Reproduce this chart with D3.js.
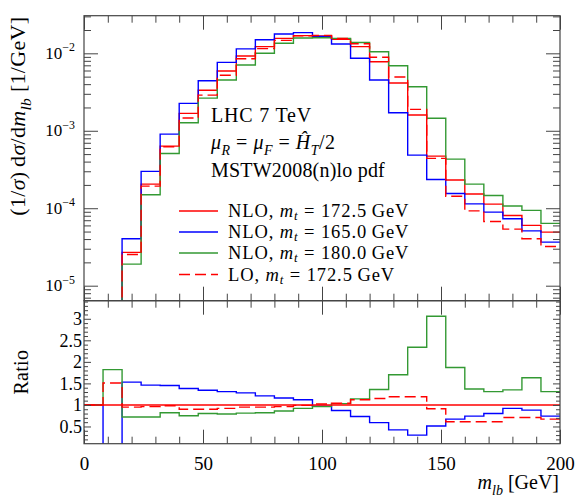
<!DOCTYPE html>
<html><head><meta charset="utf-8">
<script src="https://cdn.jsdelivr.net/npm/d3@7"></script>
<style>
body{margin:0;background:#fff;}
svg text{font-family:"Liberation Serif","Times New Roman",serif;fill:#000;white-space:pre;}
</style></head><body>
<svg id="chart" width="581" height="500"></svg>
<script>
// ---------- data ----------
const binLow = [0,8,16,24,32,40,48,56,64,72,80,88,96,104,112,120,128,136,144,152,160,168,176,184,192];
const binWidth = 8;
// (1/sigma) dsigma/dm_lb [1/GeV]
const nlo1725 = [0,3.0e-6,2.69e-5,2.05e-4,6.34e-4,1.68e-3,3.33e-3,5.91e-3,9.23e-3,1.22e-2,1.56e-2,1.69e-2,1.67e-2,1.52e-2,1.22e-2,7.79e-3,4.13e-3,1.60e-3,4.71e-4,2.31e-4,1.53e-4,1.13e-4,8.07e-5,6.0e-5,4.91e-5];
const nlo1650 = [0,0,4.03e-5,2.99e-4,9.06e-4,2.26e-3,4.43e-3,7.65e-3,1.14e-2,1.50e-2,1.78e-2,1.85e-2,1.65e-2,1.32e-2,8.62e-3,4.52e-3,1.71e-3,4.85e-4,2.35e-4,1.55e-4,1.14e-4,8.9e-5,7.3e-5,5.1e-5,3.65e-5];
const nlo1800 = [0,5.4e-6,1.90e-5,1.49e-4,5.1e-4,1.27e-3,2.64e-3,4.52e-3,7.06e-3,1.0e-2,1.35e-2,1.58e-2,1.59e-2,1.56e-2,1.38e-2,1.05e-2,6.92e-3,3.70e-3,1.45e-3,4.31e-4,2.05e-4,1.46e-4,1.07e-4,9.37e-5,6.37e-5];
const lo1725  = [0,4.5e-6,2.53e-5,1.93e-4,6.21e-4,1.46e-3,2.89e-3,5.2e-3,8.5e-3,1.15e-2,1.47e-2,1.68e-2,1.70e-2,1.56e-2,1.33e-2,8.88e-3,4.94e-3,1.89e-3,4.40e-4,1.43e-4,9.25e-5,6.75e-5,5.37e-5,4.03e-5,3.21e-5];
// ratios to NLO, m_t = 172.5 GeV
const ratio1725 = [1,1,1,1,1,1,1,1,1,1,1,1,1,1,1,1,1,1,1,1,1,1,1,1,1];
const ratio1650 = [1,0,1.53,1.46,1.45,1.38,1.34,1.31,1.28,1.21,1.16,1.12,0.97,0.87,0.73,0.59,0.42,0.30,0.51,0.67,0.74,0.80,0.92,0.88,0.74];
const ratio1800 = [1,1.82,0.72,0.72,0.82,0.75,0.80,0.79,0.81,0.82,0.86,0.92,0.96,1.03,1.14,1.36,1.70,2.34,3.06,1.87,1.37,1.31,1.35,1.63,1.31];
const ratioLO   = [1,1.51,0.95,0.96,0.98,0.90,0.90,0.92,0.95,0.95,0.96,0.99,1.02,1.04,1.12,1.15,1.19,1.19,0.91,0.61,0.61,0.61,0.71,0.71,0.67];
const legendOrders = ["NLO","NLO","NLO","LO"];
const legendMasses = ["172.5","165.0","180.0","172.5"];
const xMajorTicks = [0,50,100,150,200];
const ratioTickLabels = [0.5,1,1.5,2,2.5,3];
const logTickLabels = [1e-5,1e-4,1e-3,1e-2];

// ---------- layout ----------
const L=84, R=560, T=15.7, M=300.7, B=443.7;
const colors = ["#ff0000","#0000ff","#339933","#ff0000"];
const dashes = [null,null,null,"11,5"];
const axisColor = "#444";
const LW = 1.4;

const svg = d3.select("#chart");
const x = d3.scaleLinear().domain([0,200]).range([L,R]);
const yTop = d3.scaleLog().domain([6.4e-6,3.06e-2]).range([M,T]);
const yR = d3.scaleLinear().domain([0.1,3.42]).range([B,M]);

const defs = svg.append("defs");
defs.append("clipPath").attr("id","cTop").append("rect").attr("x",L).attr("y",T).attr("width",R-L).attr("height",M-T);
defs.append("clipPath").attr("id","cR").append("rect").attr("x",L).attr("y",M).attr("width",R-L).attr("height",B-M);

function stepPath(vals, ys, floor){
  const pts = vals.map((v,i)=>[binLow[i], v]);
  pts.push([binLow[vals.length-1]+binWidth, vals[vals.length-1]]);
  return d3.line().x(d=>x(d[0])).y(d=>ys(Math.max(d[1],floor))).curve(d3.curveStepAfter)(pts);
}

// top histograms
const gTop = svg.append("g").attr("clip-path","url(#cTop)");
[nlo1725,nlo1650,nlo1800,lo1725].forEach((s,i)=>{
  gTop.append("path").attr("d",stepPath(s,yTop,1e-9)).attr("fill","none")
    .attr("stroke",colors[i]).attr("stroke-width",LW).attr("stroke-dasharray",dashes[i]);
});
// ratio histograms
const gR = svg.append("g").attr("clip-path","url(#cR)");
[[ratio1650,1],[ratio1800,2],[ratioLO,3],[ratio1725,0]].forEach(([s,i])=>{
  gR.append("path").attr("d",stepPath(s,yR,-2)).attr("fill","none")
    .attr("stroke",colors[i]).attr("stroke-width",LW).attr("stroke-dasharray",dashes[i]);
});

// ---------- axes / ticks ----------
function ticks(gen, scale, vals, size, tr){
  const g = svg.append("g").attr("transform",tr).call(gen(scale).tickValues(vals).tickSize(size).tickFormat(""));
  g.select(".domain").remove();
  g.selectAll("line").attr("stroke",axisColor).attr("stroke-width",1);
}
const xMinor = d3.range(0,201,10).filter(v=>v%50!==0);
[[d3.axisTop,T],[d3.axisBottom,M],[d3.axisTop,M],[d3.axisBottom,B]].forEach(([gen,yy])=>{
  ticks(gen,x,xMajorTicks,-14,`translate(0,${yy})`);
  ticks(gen,x,xMinor,-7,`translate(0,${yy})`);
});
const logMajor = [1e-5,1e-4,1e-3,1e-2];
const logMinor = [];
for (let e=-6;e<=-2;e++) for (let m=2;m<=9;m++){ const v=m*Math.pow(10,e); if (v>=6.4e-6 && v<=3.06e-2) logMinor.push(v); }
const rMajor = [0.5,1,1.5,2,2.5,3];
const rMinor = d3.range(2,35).map(v=>v/10).filter(v=>Math.abs(v*2-Math.round(v*2))>1e-6);
[[d3.axisLeft,L],[d3.axisRight,R]].forEach(([gen,xx])=>{
  ticks(gen,yTop,logMajor,-14,`translate(${xx},0)`);
  ticks(gen,yTop,logMinor,-7,`translate(${xx},0)`);
  ticks(gen,yR,rMajor,-7,`translate(${xx},0)`);
  ticks(gen,yR,rMinor,-4,`translate(${xx},0)`);
});
// frames
svg.append("rect").attr("x",L).attr("y",T).attr("width",R-L).attr("height",M-T).attr("fill","none").attr("stroke",axisColor).attr("stroke-width",1.2);
svg.append("rect").attr("x",L).attr("y",M).attr("width",R-L).attr("height",B-M).attr("fill","none").attr("stroke",axisColor).attr("stroke-width",1.2);

// tick labels
const gx = svg.append("g").attr("transform",`translate(0,${B})`)
  .call(d3.axisBottom(x).tickValues(xMajorTicks).tickSize(0).tickPadding(13).tickFormat(d3.format("d")));
gx.select(".domain").remove();
gx.attr("font-family",null).attr("font-size",null);
gx.selectAll("text").style("font-size","19px");

const gyr = svg.append("g").attr("transform",`translate(${L},0)`)
  .call(d3.axisLeft(yR).tickValues(ratioTickLabels).tickSize(0).tickPadding(2).tickFormat(d3.format("")));
gyr.select(".domain").remove();
gyr.attr("font-family",null).attr("font-size",null);
gyr.selectAll("text").style("font-size","18px");

function rich(g, x0, y0, size, parts, anchor, ls, subk){
  const t = g.append("text").attr("x",x0).attr("y",y0).style("font-size",size+"px").attr("text-anchor",anchor||"start");
  if (ls) t.style("letter-spacing",ls+"px");
  const sk = subk || 0.28;
  let shift = 0;
  parts.forEach(p=>{
    const ts = t.append("tspan").text(p.t);
    let target = p.sub ? size*sk : (p.sup ? -size*0.45 : 0);
    const dy = target - shift;
    if (Math.abs(dy)>1e-6) ts.attr("dy",dy);
    shift = target;
    if (p.sub||p.sup) ts.style("font-size",(size*0.7)+"px");
    if (p.i) ts.style("font-style","italic");
  });
  return t;
}
logTickLabels.forEach(v=>{
  const e = Math.round(Math.log10(v));
  rich(svg, 75, yTop(v)+5.5, 17, [{t:"10"},{t:"\u2212"+Math.abs(e),sup:true}], "end");
});

// axis titles (y title aligned to top of axis, x title to the right end)
const gyl = svg.append("g").attr("transform",`translate(25,${T+1}) rotate(-90)`);
rich(gyl,0,0,22,[{t:"(1/"},{t:"σ",i:true},{t:")\u2009d"},{t:"σ",i:true},{t:"/d"},{t:"m",i:true},{t:"lb",i:true,sub:true},{t:" [1/GeV]"}],"end",0.3);
const gyl2 = svg.append("g").attr("transform",`translate(28,${(M+B)/2}) rotate(-90)`);
rich(gyl2,0,0,20,[{t:"Ratio"}],"middle",0.3);
rich(svg,559,489,20,[{t:"m",i:true},{t:"lb",i:true,sub:true},{t:" [GeV]"}],"end");

// annotation text
rich(svg,211,122,20,[{t:"LHC 7 TeV"}],"start",0.8);
rich(svg,211,149,20,[{t:"μ",i:true},{t:"R",i:true,sub:true},{t:"\u2005=\u2005"},{t:"μ",i:true},{t:"F",i:true,sub:true},{t:"\u2005=\u2005"},{t:"Ĥ",i:true},{t:"T",i:true,sub:true},{t:"/2"}],"start",0.5);
rich(svg,211,177,20,[{t:"MSTW2008(n)lo pdf"}],"start",0.2);

// legend
const legY = [211,232,253,274.5];
legendOrders.forEach((o,i)=>{
  svg.append("line").attr("x1",179).attr("x2",218).attr("y1",legY[i]).attr("y2",legY[i])
    .attr("stroke",colors[i]).attr("stroke-width",LW).attr("stroke-dasharray",dashes[i]);
  rich(svg,228,legY[i]+6,18.5,[{t:o+", "},{t:"m",i:true},{t:"t",i:true,sub:true},{t:"\u2005=\u2005"+legendMasses[i]+"\u2009GeV"}],"start",0.9,0.18);
});
</script>
</body></html>
